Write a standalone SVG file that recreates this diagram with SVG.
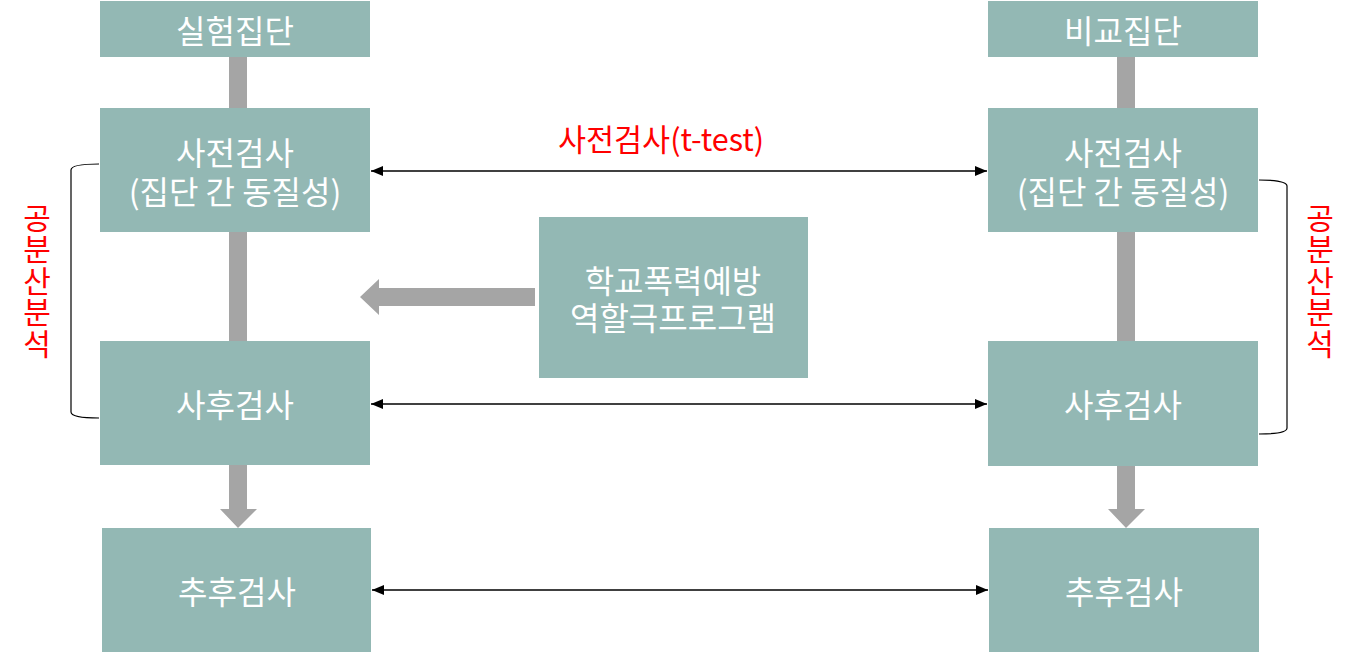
<svg xmlns="http://www.w3.org/2000/svg" width="1353" height="653" viewBox="0 0 1353 653">
<style>
.box{fill:#93B8B4}
.bar{fill:#A5A5A5}
.t{font-family:"Noto Sans CJK KR","Noto Sans",sans-serif;font-size:32px;fill:#FFFFFF;text-anchor:middle;dominant-baseline:central}
.r{font-family:"Noto Sans CJK KR","Noto Sans",sans-serif;font-size:30.5px;fill:#FF0000;text-anchor:middle;dominant-baseline:central}
.v{font-family:"Noto Sans CJK KR","Noto Sans",sans-serif;font-size:30px;fill:#FF0000;text-anchor:middle;writing-mode:vertical-rl;letter-spacing:1.5px}
.ln{stroke:#000;stroke-width:1.3;fill:none}
.br{stroke:#000;stroke-width:1.2;fill:none}
</style>
<defs>
<marker id="ah" viewBox="0 0 12 10" refX="12" refY="5" markerWidth="12" markerHeight="10" markerUnits="userSpaceOnUse" orient="auto-start-reverse">
<path d="M0,0 L12,5 L0,10 Z" fill="#000"/>
</marker>
</defs>
<rect width="1353" height="653" fill="#FFFFFF"/>
<g id="flow-bars">
<rect class="bar" x="229" y="57" width="18" height="51"/>
<rect class="bar" x="229" y="232" width="18" height="109"/>
<path class="bar" d="M229,465 H247 V509 H257 L238,528 L220,509 H229 Z"/>
<rect class="bar" x="1117" y="57" width="18" height="51"/>
<rect class="bar" x="1117" y="232" width="18" height="109"/>
<path class="bar" d="M1117,465 H1135 V509 H1145 L1126,528 L1108,509 H1117 Z"/>
<path class="bar" d="M535,288 V306 H379 V315 L360,297 L379,279 V288 Z"/>
</g>
<g id="connectors">
<line class="ln" x1="371" y1="171" x2="987" y2="171" marker-start="url(#ah)" marker-end="url(#ah)"/>
<line class="ln" x1="371" y1="404" x2="987" y2="404" marker-start="url(#ah)" marker-end="url(#ah)"/>
<line class="ln" x1="372" y1="590" x2="988" y2="590" marker-start="url(#ah)" marker-end="url(#ah)"/>
<path class="br" d="M99,164 Q71,164 71,170 V412 Q71,418 99,418"/>
<path class="br" d="M1259,180 Q1287,180 1287,186 V428 Q1287,434 1259,434"/>
</g>
<g id="label-ttest"><text class="r" x="661" y="138">사전검사(t-test)</text></g>
<g id="label-ancova-left"><text class="v" x="37" y="281">공분산분석</text></g>
<g id="label-ancova-right"><text class="v" x="1320" y="281">공분산분석</text></g>
<g id="exp-group"><rect class="box" x="100" y="1" width="270" height="56"/><text class="t" x="235" y="29">실험집단</text></g>
<g id="exp-pre"><rect class="box" x="100" y="108" width="270" height="124"/><text class="t"><tspan x="235" y="151">사전검사</tspan><tspan x="235" y="190">(집단 간 동질성)</tspan></text></g>
<g id="exp-post"><rect class="box" x="100" y="341" width="270" height="124"/><text class="t" x="235" y="403">사후검사</text></g>
<g id="exp-follow"><rect class="box" x="102" y="528" width="269" height="124"/><text class="t" x="237" y="590">추후검사</text></g>
<g id="program"><rect class="box" x="539" y="217" width="269" height="161"/><text class="t"><tspan x="673" y="279">학교폭력예방</tspan><tspan x="673" y="316">역할극프로그램</tspan></text></g>
<g id="ctl-group"><rect class="box" x="988" y="1" width="270" height="56"/><text class="t" x="1123" y="29">비교집단</text></g>
<g id="ctl-pre"><rect class="box" x="988" y="108" width="270" height="124"/><text class="t"><tspan x="1123" y="151">사전검사</tspan><tspan x="1123" y="190">(집단 간 동질성)</tspan></text></g>
<g id="ctl-post"><rect class="box" x="988" y="341" width="270" height="125"/><text class="t" x="1123" y="403">사후검사</text></g>
<g id="ctl-follow"><rect class="box" x="989" y="528" width="270" height="124"/><text class="t" x="1124" y="590">추후검사</text></g>
</svg>
